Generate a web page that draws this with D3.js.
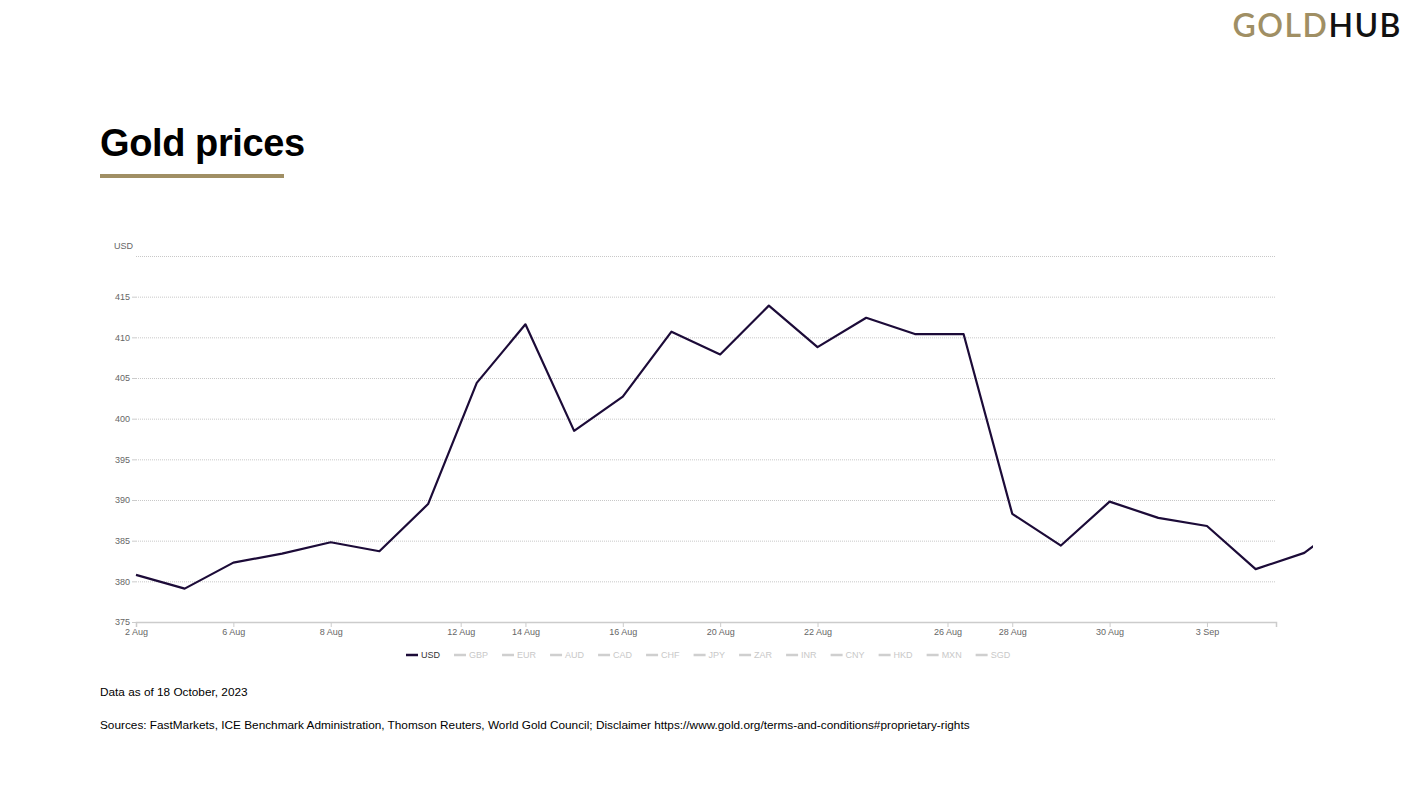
<!DOCTYPE html>
<html>
<head>
<meta charset="utf-8">
<script src="https://cdn.jsdelivr.net/npm/d3@7"></script>
<style>
  body { margin: 0; background: #fff; font-family: "Liberation Sans", Arial, sans-serif; }
  svg { display: block; }
</style>
</head>
<body>
<svg id="chart" width="1417" height="797"></svg>
<script>
// USD price, one value per point
var usd = [380.8, 379.1, 382.3, 383.4, 384.8, 383.7, 389.5, 404.4, 411.6, 398.5,
  402.7, 410.7, 407.9, 413.9, 408.8, 412.4, 410.4, 410.4, 388.3, 384.4,
  389.8, 387.8, 386.8, 381.5, 383.5, 388.0];

// x tick labels and where they sit along the point index
var tickLabels = ["2 Aug", "6 Aug", "8 Aug", "12 Aug", "14 Aug", "16 Aug", "20 Aug", "22 Aug", "26 Aug", "28 Aug", "30 Aug", "3 Sep"];
var tickIndex = [0, 2, 4, 6.67, 8, 10, 12, 14, 16.67, 18, 20, 22];

var yTicks = [375, 380, 385, 390, 395, 400, 405, 410, 415, 420];

var currencies = ["USD", "GBP", "EUR", "AUD", "CAD", "CHF", "JPY", "ZAR", "INR", "CNY", "HKD", "MXN", "SGD"];

var gold = "#a08f64";
var lineColor = "#1c0b38";

var svg = d3.select("#chart");

// header
var logo = svg.append("text")
  .attr("x", 1402).attr("y", 37)
  .attr("text-anchor", "end")
  .style("font-family", "Lato, 'Open Sans', sans-serif")
  .style("font-size", "32px")
  .style("font-weight", "600")
  .style("letter-spacing", "1.5px");
logo.append("tspan").attr("fill", gold).text("GOLD");
logo.append("tspan").attr("fill", "#111").text("HUB");

svg.append("text")
  .attr("x", 100).attr("y", 156)
  .style("font-size", "38px")
  .style("font-weight", "bold")
  .style("letter-spacing", "-0.4px")
  .attr("fill", "#000")
  .text("Gold prices");

svg.append("rect")
  .attr("x", 100).attr("y", 174)
  .attr("width", 184).attr("height", 4)
  .attr("fill", gold);

// plot
var plotLeft = 136, plotRight = 1276, plotTop = 256, plotBottom = 622;

var x = d3.scaleLinear()
  .domain([0, (plotRight - plotLeft) / 48.68])
  .range([plotLeft, plotRight]);

var y = d3.scaleLinear()
  .domain([375, 420])
  .range([plotBottom, plotTop]);

// gridlines
svg.append("g")
  .selectAll("line")
  .data(yTicks.slice(1))
  .enter().append("line")
    .attr("x1", plotLeft).attr("x2", plotRight)
    .attr("y1", function(d) { return y(d) + 0.5; })
    .attr("y2", function(d) { return y(d) + 0.5; })
    .attr("stroke", "#c8c8c8")
    .attr("stroke-width", 1)
    .attr("stroke-dasharray", "1,1");

// y axis labels
var yAxis = svg.append("g")
  .attr("transform", "translate(" + plotLeft + ",0)")
  .call(d3.axisLeft(y).tickValues(yTicks.slice(0, -1)).tickSize(4).tickPadding(2));
yAxis.select(".domain").remove();
yAxis.selectAll(".tick line").attr("stroke", "#ccc");
yAxis.selectAll("text")
  .attr("fill", "#666")
  .style("font-family", "'Liberation Sans', Arial, sans-serif")
  .style("font-size", "9px");

svg.append("text")
  .attr("x", 133).attr("y", 249)
  .attr("text-anchor", "end")
  .attr("fill", "#666")
  .style("font-size", "9px")
  .text("USD");

// x axis
var xAxis = svg.append("g")
  .attr("transform", "translate(0," + plotBottom + ")")
  .call(d3.axisBottom(x)
    .tickValues(tickIndex)
    .tickFormat(function(d, i) { return tickLabels[i]; })
    .tickSizeOuter(0)
    .tickSize(5)
    .tickPadding(2));
xAxis.select(".domain").attr("stroke", "#ccc").attr("stroke-width", 1.5);
xAxis.selectAll(".tick line").attr("stroke", "#ccc");
xAxis.selectAll("text")
  .attr("fill", "#666")
  .style("font-family", "'Liberation Sans', Arial, sans-serif")
  .style("font-size", "9px");

// the series runs past the axis end and is cut a bit further right
svg.append("clipPath").attr("id", "clip")
  .append("rect")
    .attr("x", 0).attr("y", 0)
    .attr("width", 1313).attr("height", 797);

var line = d3.line()
  .x(function(d, i) { return x(i); })
  .y(function(d) { return y(d); });

svg.append("path")
  .datum(usd)
  .attr("clip-path", "url(#clip)")
  .attr("fill", "none")
  .attr("stroke", lineColor)
  .attr("stroke-width", 2.2)
  .attr("stroke-linejoin", "round")
  .attr("d", line);

// legend
var legend = svg.append("g").attr("transform", "translate(406,655)");
var lx = 0;
currencies.forEach(function(c, i) {
  var col = i === 0 ? lineColor : "#cfcfcf";
  var g = legend.append("g").attr("transform", "translate(" + lx + ",0)");
  g.append("line")
    .attr("x1", 0).attr("x2", 12)
    .attr("y1", 0).attr("y2", 0)
    .attr("stroke", col)
    .attr("stroke-width", 2.5);
  var t = g.append("text")
    .attr("x", 15).attr("y", 3.2)
    .attr("fill", i === 0 ? "#333" : "#c8c8c8")
    .style("font-size", "9px")
    .text(c);
  lx += 15 + t.node().getComputedTextLength() + 14;
});

// footer
svg.append("text")
  .attr("x", 100).attr("y", 696)
  .attr("fill", "#000")
  .style("font-size", "11.8px")
  .text("Data as of 18 October, 2023");

svg.append("text")
  .attr("x", 100).attr("y", 729)
  .attr("fill", "#000")
  .style("font-size", "11.8px")
  .text("Sources: FastMarkets, ICE Benchmark Administration, Thomson Reuters, World Gold Council; Disclaimer https://www.gold.org/terms-and-conditions#proprietary-rights");
</script>
</body>
</html>
